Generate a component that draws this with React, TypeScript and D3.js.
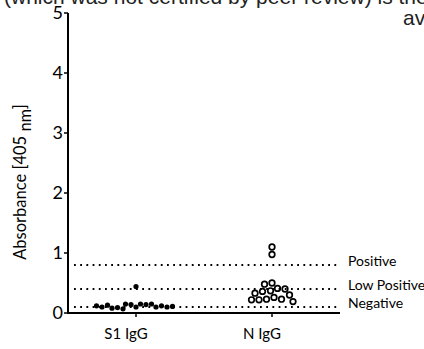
import React from 'react'
import * as d3 from 'd3'

const categories = ['S1 IgG', 'N IgG']
const s1Values = [0.1, 0.14, 0.15, 0.14, 0.15, 0.07, 0.15, 0.09, 0.1, 0.44, 0.08, 0.12, 0.13, 0.1, 0.1, 0.11, 0.12]
const nValues = [1.1, 0.975, 0.5, 0.48, 0.41, 0.4, 0.37, 0.36, 0.33, 0.3, 0.26, 0.23, 0.23, 0.22, 0.22, 0.19]
const cutoffLabels = ['Positive', 'Low Positive', 'Negative']
const cutoffValues = [0.8, 0.4, 0.1]
const yTicks = [0, 1, 2, 3, 4, 5]

const W = 424
const H = 349
const font = 'Lato, "Noto Sans", sans-serif'

// greedy beeswarm: keep y, push x out from the centre until nothing overlaps
function swarm(values: number[], cx: number, y: (v: number) => number, minDist: number) {
  const placed: { x: number; y: number }[] = []
  for (const v of values) {
    const py = y(v)
    let px = cx
    for (let k = 0; k < 600; k++) {
      const dx = k % 2 === 0 ? (k / 2) * 0.5 : -((k + 1) / 2) * 0.5
      const cand = cx + dx
      if (placed.every(p => Math.hypot(p.x - cand, p.y - py) >= minDist)) {
        px = cand
        break
      }
    }
    placed.push({ x: px, y: py })
  }
  return placed
}

export default function App() {
  const x0 = 68
  const x1 = 340
  const y = d3.scaleLinear().domain([0, 5]).range([313, 13])
  const x = d3.scalePoint<string>().domain(categories).range([x0, x1]).padding(0.5)

  const s1 = swarm(s1Values, x('S1 IgG')!, y, 5.4)
  const nn = swarm(nValues, x('N IgG')!, y, 7.4)

  return (
    <svg width={W} height={H} style={{ position: 'absolute', left: 0, top: 0 }}>
      <rect width={W} height={H} fill="#fff" />
      <text x={4} y={4} fontFamily='"Liberation Sans", Arial, sans-serif' fontSize={21} fill="#222">
        (which was not certified by peer review) is the copyright holder for this preprint
      </text>
      <text x={403} y={25} fontFamily='"Liberation Sans", Arial, sans-serif' fontSize={21} fill="#222">
        available under a CC-BY-NC-ND 4.0 International license.
      </text>

      {cutoffValues.map((v, i) => (
        <g key={cutoffLabels[i]}>
          <line x1={x0 + 6} x2={x1} y1={y(v)} y2={y(v)} stroke="#000" strokeWidth={1.8} strokeDasharray="1.8 4.4" />
          <text x={348} y={y(v) + 1} fontFamily={font} fontSize={14} fill="#000">
            {cutoffLabels[i]}
          </text>
        </g>
      ))}

      {/* y axis */}
      <line x1={x0} x2={x0} y1={y(0) + 1} y2={y(5)} stroke="#000" strokeWidth={2} />
      {yTicks.map(t => (
        <g key={t}>
          <line x1={x0 - 4} x2={x0} y1={y(t)} y2={y(t)} stroke="#000" strokeWidth={1.5} />
          <text x={x0 - 5} y={y(t)} dy="0.36em" textAnchor="end" fontFamily={font} fontSize={18} fill="#000">
            {t}
          </text>
        </g>
      ))}
      <text
        transform={`translate(26, 182) rotate(-90)`}
        textAnchor="middle"
        fontFamily={font}
        fontSize={16.5}
        fill="#000"
      >
        Absorbance [405 <tspan baselineShift="-30%">nm</tspan>]
      </text>

      {/* x axis */}
      <line x1={x0 - 1} x2={x1} y1={y(0)} y2={y(0)} stroke="#000" strokeWidth={2} />
      {categories.map(c => (
        <g key={c}>
          <line x1={x(c)!} x2={x(c)!} y1={y(0)} y2={y(0) + 4} stroke="#000" strokeWidth={1.5} />
          <text x={x(c)! - 10} y={339} textAnchor="middle" fontFamily={font} fontSize={15} fill="#000">
            {c}
          </text>
        </g>
      ))}

      {s1.map((p, i) => (
        <circle key={'s' + i} cx={p.x} cy={p.y} r={2.6} fill="#000" />
      ))}
      {nn.map((p, i) => (
        <circle key={'n' + i} cx={p.x} cy={p.y} r={2.8} fill="none" stroke="#000" strokeWidth={1.7} />
      ))}
    </svg>
  )
}
